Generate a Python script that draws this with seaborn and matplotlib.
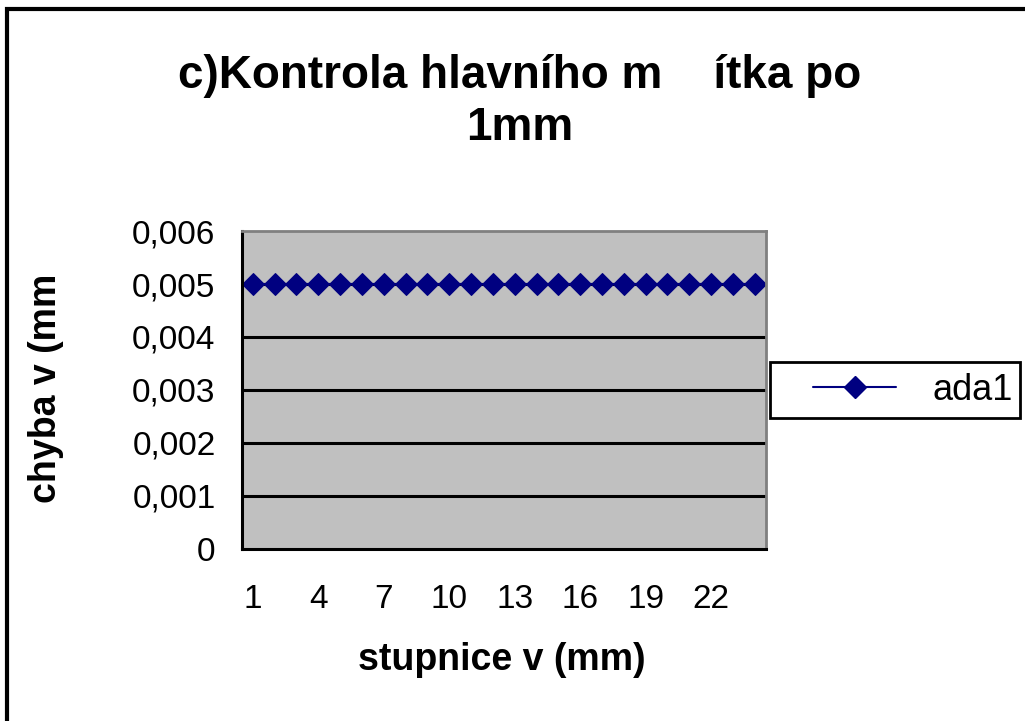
import matplotlib
matplotlib.use("Agg")
import matplotlib.pyplot as plt
from matplotlib.patches import Rectangle
from matplotlib.ticker import FixedLocator, FuncFormatter
import pandas as pd
import seaborn as sns

# data
stupnice = list(range(1, 25))
chyba = [0.005] * 24
serie = "ada1"
x_labels = [1, 4, 7, 10, 13, 16, 19, 22]
y_ticks = [0, 0.001, 0.002, 0.003, 0.004, 0.005, 0.006]

df = pd.DataFrame({"stupnice": stupnice, "chyba": chyba, "serie": serie})

sns.set_style("white")
plt.rcParams["font.family"] = ["Liberation Sans", "DejaVu Sans"]
plt.rcParams["text.color"] = "black"
plt.rcParams["xtick.color"] = "black"
plt.rcParams["ytick.color"] = "black"

fig = plt.figure(figsize=(10.25, 7.21), dpi=100)
ax = fig.add_axes([0.236, 0.2386, 0.511, 0.441])
ax.set_facecolor("#C0C0C0")

sns.lineplot(data=df, x="stupnice", y="chyba", hue="serie", palette=["#000080"],
             marker="D", markersize=11, markeredgecolor="#000080", linewidth=1.5,
             ax=ax, legend=False)

ax.set_xlim(0.5, 24.5)
ax.set_ylim(0, 0.006)

# grid lines
for y in y_ticks[1:-1]:
    ax.axhline(y, color="black", lw=2.2, zorder=1)

ax.yaxis.set_major_locator(FixedLocator(y_ticks))
ax.yaxis.set_major_formatter(FuncFormatter(lambda v, p: ("%g" % round(v, 3)).replace(".", ",")))
ax.xaxis.set_major_locator(FixedLocator(x_labels))
ax.xaxis.set_minor_locator(FixedLocator([i + 0.5 for i in range(0, 25)]))
ax.tick_params(axis="x", which="major", length=0, labelsize=24, pad=25)
ax.tick_params(axis="x", which="minor", length=9, width=2, direction="out")
ax.tick_params(axis="y", which="major", length=9, width=2, direction="out",
               labelsize=24, pad=10)

for s in ["left", "bottom"]:
    ax.spines[s].set_color("black")
    ax.spines[s].set_linewidth(2.2)
for s in ["top", "right"]:
    ax.spines[s].set_color("#808080")
    ax.spines[s].set_linewidth(2)

ax.set_xlabel("")
ax.set_ylabel("")

fig.text(0.507, 1 - 102 / 721, "c)Kontrola hlavního m    ítka po\n1mm", ha="center", va="center",
         fontsize=33, fontweight="bold", linespacing=1.22)
fig.text(0.49, 1 - 660 / 721, "stupnice v (mm)", ha="center", va="center",
         fontsize=27, fontweight="bold")
fig.text(0.045, 1 - 388 / 721, "chyba v (mm", ha="center", va="center", rotation=90,
         fontsize=27, fontweight="bold")

# legend: frame drawn separately to get Excel's box size
handle = plt.Line2D([], [], color="#000080", marker="D", markersize=11, linewidth=1.5)
fig.legend([handle], [serie], loc="center left", bbox_to_anchor=(813 / 1025, 1 - 390 / 721),
           fontsize=26, frameon=False, handlelength=2.3, handletextpad=1.0, borderpad=0,
           borderaxespad=0)
fig.add_artist(Rectangle((770 / 1025, 1 - 418 / 721), 250 / 1025, 56 / 721,
                         transform=fig.transFigure, fill=False, lw=2, ec="black"))

fig.add_artist(Rectangle((0.007, -0.1), 1.2, 1.1 - 9 / 721, transform=fig.transFigure,
                         fill=False, lw=3, ec="black"))

fig.savefig("out.png", dpi=100)
